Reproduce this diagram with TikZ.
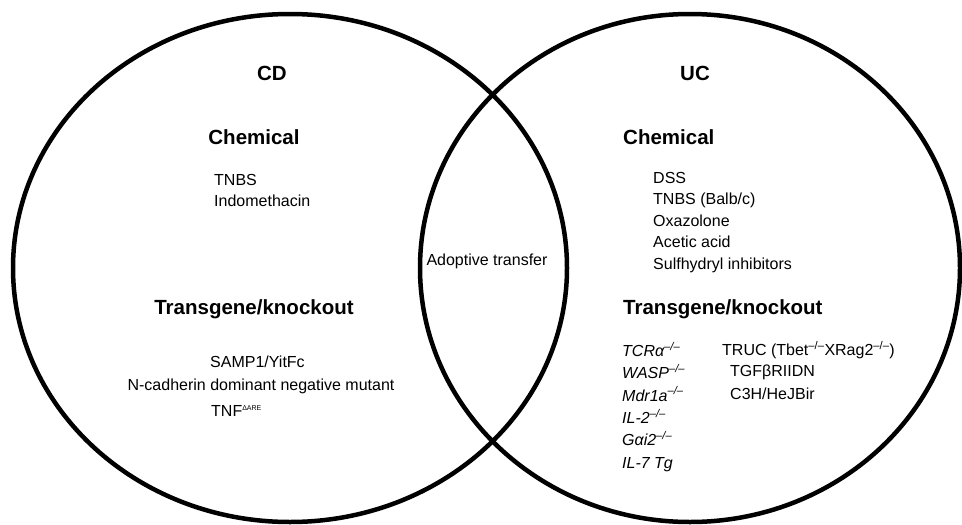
\documentclass[tikz,border=0pt]{standalone}
\usepackage{fontspec}
\setmainfont{Liberation Sans}
\usetikzlibrary{positioning}

\begin{document}
\begin{tikzpicture}[x=1pt, y=-1pt,
  ring/.style={line width=4.5pt},
  head/.style={font=\fontsize{20.5}{23}\selectfont\bfseries, inner sep=0pt},
  item/.style={font=\fontsize{16}{21.5}\selectfont, align=left, inner sep=0pt}]
  \useasboundingbox (0,0) rectangle (962,525);

  % Two sets
  \draw[ring] (290,268) ellipse [x radius=277, y radius=254];
  \draw[ring] (690,268) ellipse [x radius=270, y radius=254];

  % CD side
  \node[head] (cd) at (272,73) {CD};
  \node[head] (cdchem) at (254,137) {Chemical};
  \node[item, anchor=north west] (cdchemlist) at (214,174) {TNBS\\Indomethacin};
  \node[head] (cdtrans) at (254,309) {Transgene/knockout};
  \node[item, anchor=west] (samp) at (210,362) {SAMP1/YitFc};
  \node[item] (ncad) at (261,386) {N-cadherin dominant negative mutant};
  \node[item, anchor=west] (tnf) at (211,411) {TNF\textsuperscript{\scriptsize ΔARE}};

  % Overlap
  \node[item] (adopt) at (487,261) {Adoptive transfer};

  % UC side
  \node[head] (uc) at (695,73) {UC};
  \node[head, anchor=west] (ucchem) at (623,137) {Chemical};
  \node[item, anchor=north west] (ucchemlist) at (653,172)
    {DSS\\TNBS (Balb/c)\\Oxazolone\\Acetic acid\\Sulfhydryl inhibitors};
  \node[head, anchor=west] (uctrans) at (623,309) {Transgene/knockout};
  \node[item, anchor=north west, font=\fontsize{16}{22.3}\selectfont\itshape] (uctranslist) at (622,342)
    {TCRα\textsuperscript{–/–}\\WASP\textsuperscript{–/–}\\Mdr1a\textsuperscript{–/–}\\IL-2\textsuperscript{–/–}\\Gαi2\textsuperscript{–/–}\\IL-7 Tg};
  \node[item, anchor=west] (truc) at (722,350) {TRUC (Tbet\textsuperscript{–/–}XRag2\textsuperscript{–/–})};
  \node[item, anchor=west] (tgf) at (730,372) {TGFβRIIDN};
  \node[item, anchor=west] (c3h) at (730,394) {C3H/HeJBir};
\end{tikzpicture}
\end{document}
